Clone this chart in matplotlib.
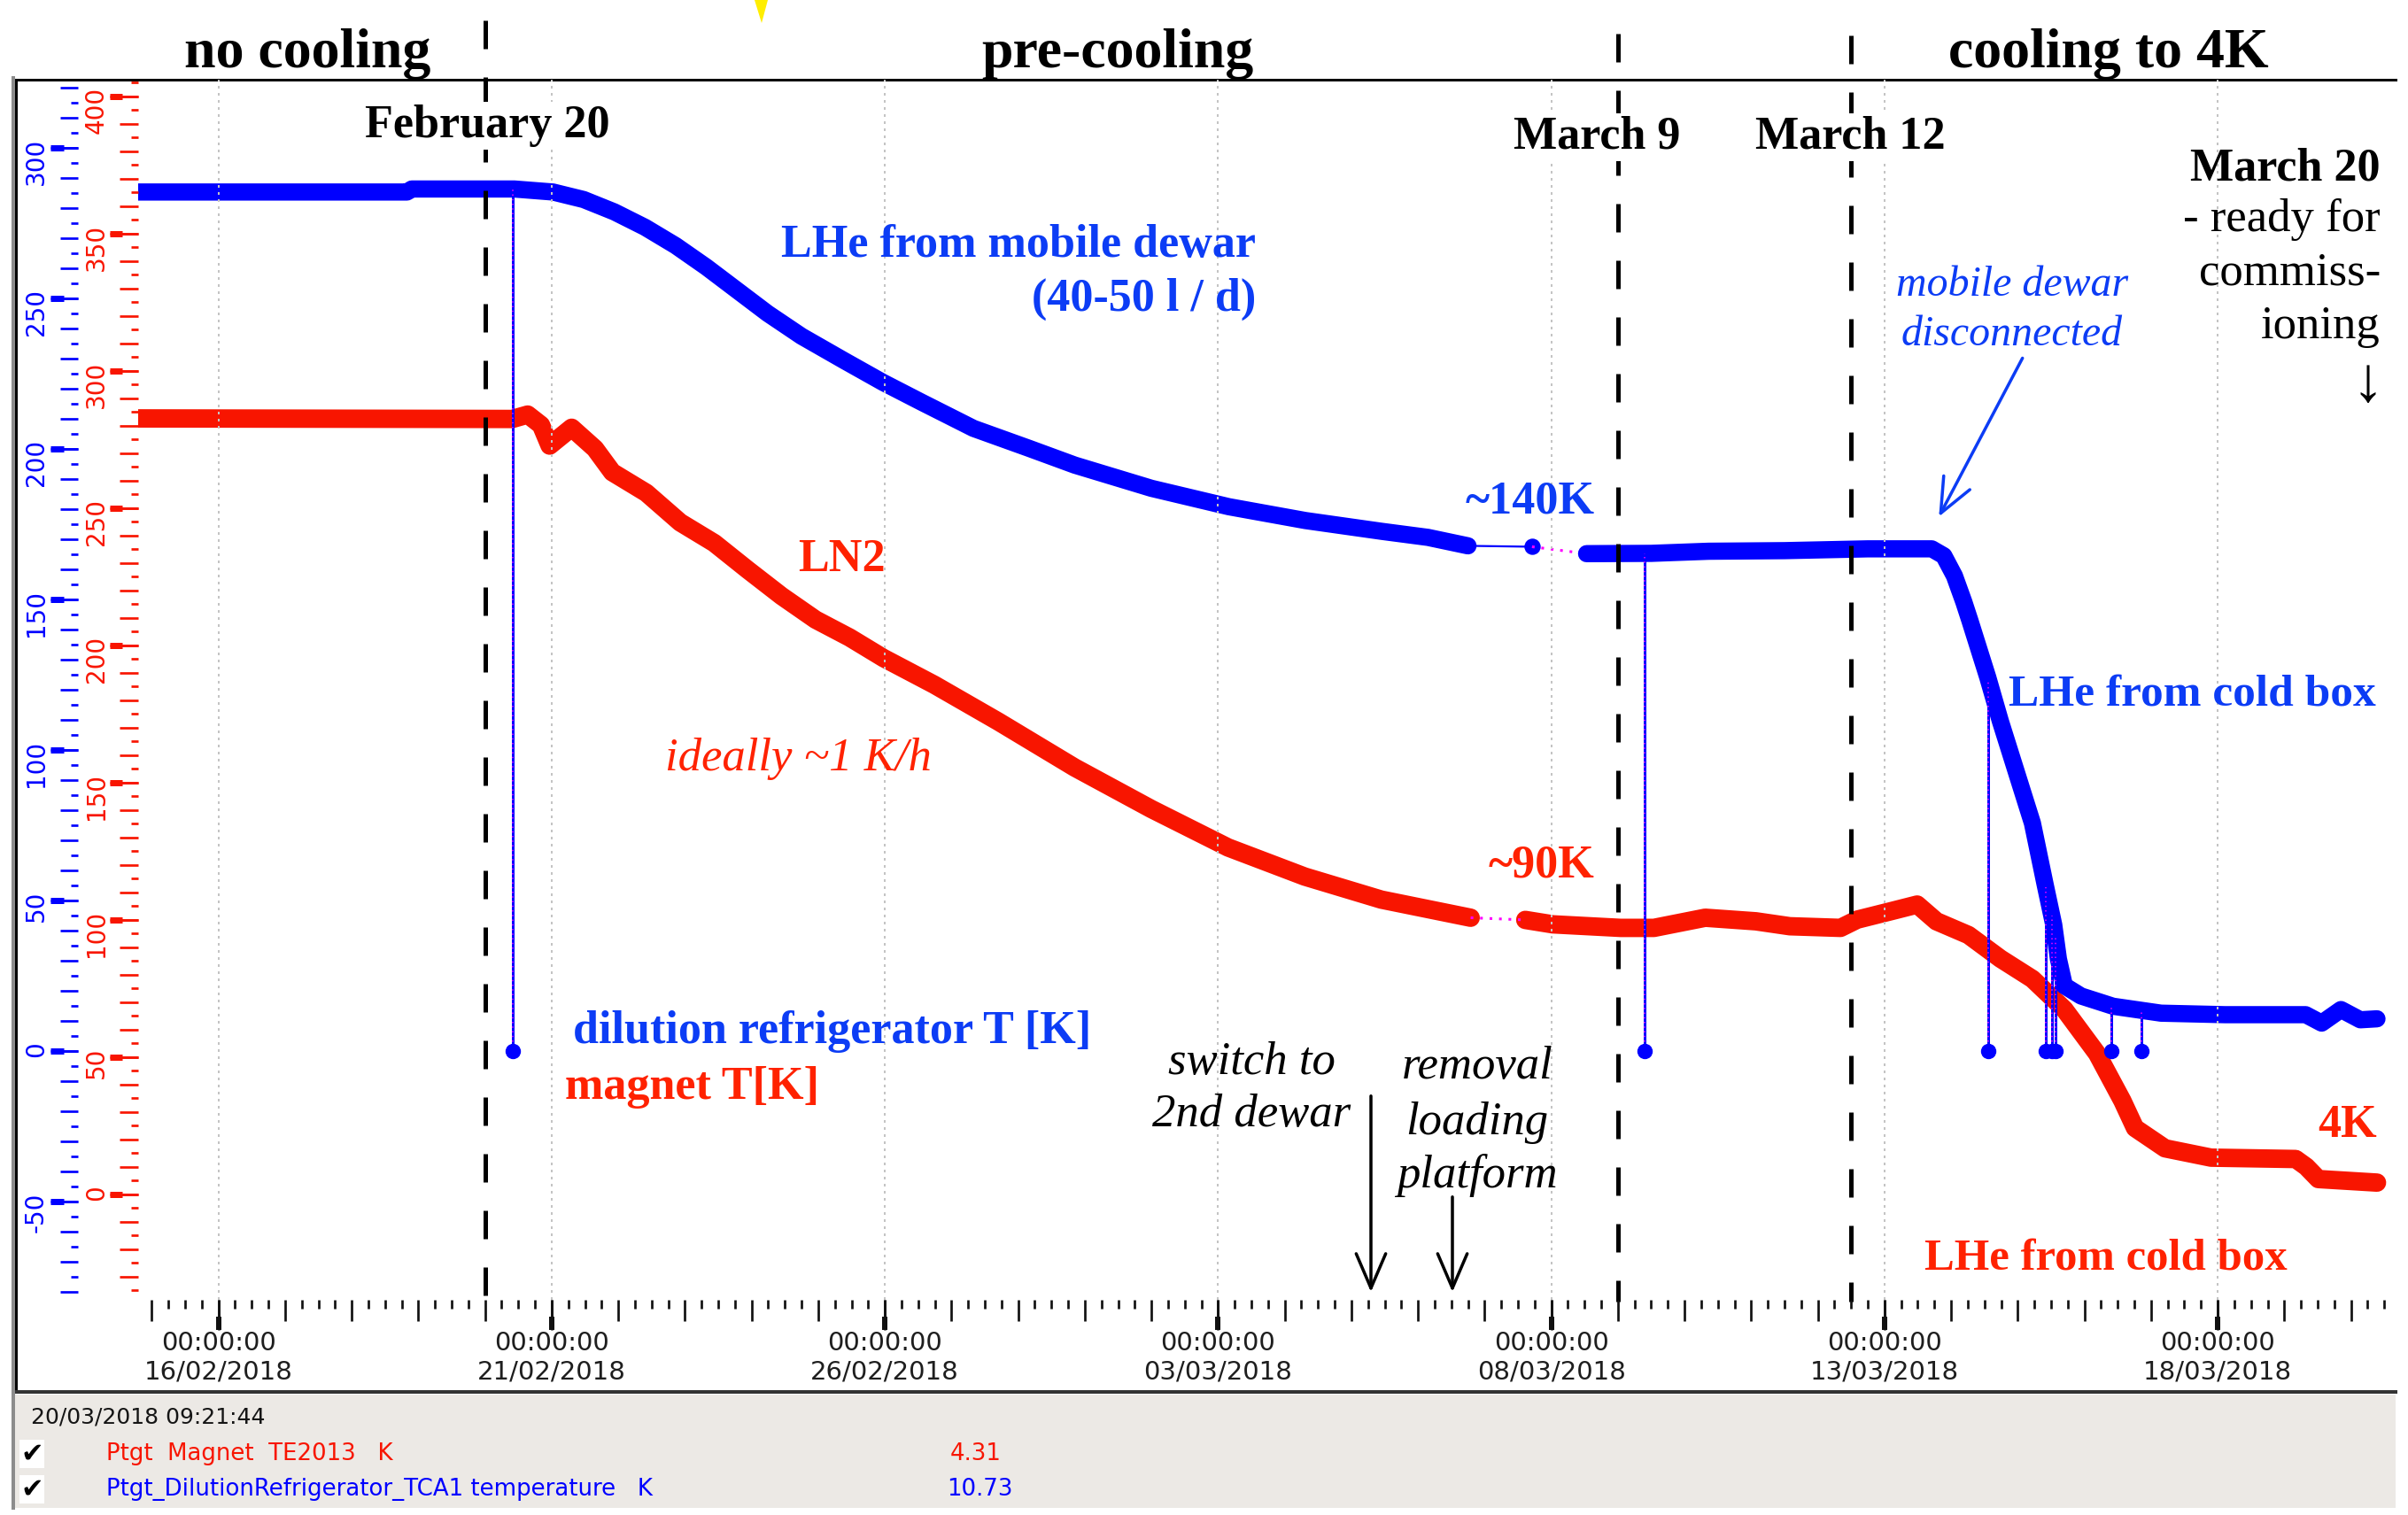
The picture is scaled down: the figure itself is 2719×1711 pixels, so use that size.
import numpy as np
import pandas as pd
import matplotlib
matplotlib.use("Agg")
import matplotlib.pyplot as plt
import matplotlib.ticker as mticker
import matplotlib.transforms as mtransforms
from matplotlib.lines import Line2D
from matplotlib.patches import Polygon, FancyArrowPatch

# ---------------------------------------------------------------- data
base = pd.Timestamp("2018-02-16 00:00")          # time axis: days after this
view = ("2018-02-14 19:05", "2018-03-20 15:07")

# magnet temperature TE2013 [K]
t_mag_1 = [-1.21, 4.41, 4.64, 4.84, 4.97, 5.30, 5.65, 5.91, 6.42, 6.93, 7.44, 7.94,
           8.45, 8.96, 9.47, 9.98, 10.74, 11.70, 12.85, 14.00, 15.15, 16.30, 17.45, 18.79]
T_mag_1 = [282.7, 282.5, 284.1, 280.3, 272.8, 279.3, 271.7, 263.1, 255.6, 244.8, 237.3, 227.6,
           218.0, 209.4, 202.9, 195.4, 185.7, 172.3, 155.5, 140.4, 126.4, 115.8, 107.4, 100.8]
t_mag_2 = [19.61, 20.02, 21.04, 21.54, 22.31, 23.07, 23.58, 24.34, 24.59, 25.10, 25.49, 25.78,
           26.26, 26.74, 27.22, 27.70, 28.19, 28.57, 28.76, 29.21, 29.90, 31.17, 31.33, 31.51, 32.39]
T_mag_2 = [100.0, 98.4, 97.1, 97.1, 100.8, 99.5, 97.7, 97.1, 100.1, 103.2, 105.6, 99.5,
           94.5, 85.9, 78.5, 67.4, 51.3, 34.1, 24.2, 16.8, 13.4, 12.9, 10.1, 5.6, 4.31]

# dilution refrigerator TCA1 temperature [K]
t_dr_1 = [-1.21, 2.83, 2.90, 4.44, 5.02, 5.48, 5.94, 6.40, 6.86, 7.32, 7.78, 8.24, 8.75,
          9.39, 9.97, 10.55, 11.33, 12.16, 12.85, 14.00, 15.16, 16.31, 17.46, 18.15, 18.75]
T_dr_1 = [285.3, 285.3, 286.3, 286.3, 285.3, 282.8, 278.7, 273.6, 267.5, 260.4, 252.7, 245.0, 237.4,
          229.3, 222.1, 215.5, 206.8, 200.2, 194.6, 186.9, 180.8, 176.2, 172.6, 170.6, 167.8]
t_dr_lone = [19.71]
T_dr_lone = [167.5]
t_dr_2 = [20.53, 21.50, 22.36, 23.50, 24.75, 25.71, 25.89, 26.05, 26.19, 26.28, 26.55, 26.74,
          26.98, 27.22, 27.41, 27.54, 27.61, 27.70, 27.95, 28.43, 29.15, 30.11, 31.32, 31.56,
          31.85, 32.14, 32.39]
T_dr_2 = [165.2, 165.3, 166.0, 166.2, 166.8, 166.8, 164.5, 157.8, 149.2, 143.1, 124.1, 109.5,
          92.6, 75.7, 55.4, 41.9, 30.6, 21.7, 18.3, 14.9, 12.6, 12.1, 12.1, 9.3,
          13.8, 10.4, 10.73]
# readout dropouts of the DR sensor
t_dr_drop = [4.42, 21.40, 26.56, 27.42, 27.51, 27.56, 28.40, 28.86]
T_dr_drop = [0.0, 0.0, 0.0, 0.0, 0.0, 0.0, 0.0, 0.0]

events = ["2018-02-20 00:00", "2018-03-09 00:00", "2018-03-12 12:00"]
last_read = "20/03/2018 09:21:44"

BLUE = "#0000ff"
RED = "#f81500"
TBLUE = "#0c3cf5"
TRED = "#ff2200"
MAG = "#ff00ff"
SERIF = ["Liberation Serif", "DejaVu Serif"]

# ---------------------------------------------------------------- layout helpers
W, H = 2719, 1711
PT = 0.72   # points per pixel at dpi 100


def box(x0, y0, x1, y1):
    return [x0 / W, 1 - y1 / H, (x1 - x0) / W, (y1 - y0) / H]


def fxy(x, y):
    return (x / W, 1 - y / H)


def days(ts):
    return (pd.Timestamp(ts) - base) / pd.Timedelta(days=1)


xlim = (days(view[0]), days(view[1]))
ylim_dr = (-82.6, 322.6)
ylim_mag = (-38.4, 406.1)
DATA = box(156, 90, 2702, 1468)

fig = plt.figure(figsize=(W / 100, H / 100), dpi=100)
fig.patch.set_facecolor("white")

# window frame + status panel
frame = fig.add_axes(box(18, 90, 2705, 1572))
frame.set_xticks([])
frame.set_yticks([])
frame.spines["right"].set_visible(False)
frame.spines["top"].set_linewidth(3 * PT)
frame.spines["bottom"].set_linewidth(4 * PT)
frame.spines["bottom"].set_color("#333333")
frame.spines["left"].set_linewidth(3 * PT)

panel = fig.add_axes(box(13, 1575, 2705, 1703))
panel.set_facecolor("#ece9e5")
panel.set_xticks([])
panel.set_yticks([])
for s in panel.spines.values():
    s.set_visible(False)
fig.add_artist(Line2D([14.5 / W, 14.5 / W], [fxy(0, 88)[1], fxy(0, 1703)[1]],
                      color="#8c8c8c", lw=4 * PT))


def bare(a, ylim):
    a.set_xlim(xlim)
    a.set_ylim(ylim)
    a.patch.set_visible(False)
    for s in a.spines.values():
        s.set_visible(False)
    a.tick_params(which="both", left=False, bottom=False, labelleft=False, labelbottom=False)
    return a


rax = bare(fig.add_axes(DATA), ylim_mag)
ax = bare(fig.add_axes(DATA), ylim_dr)

# dotted grid on top of the traces
ax.xaxis.set_major_locator(mticker.MultipleLocator(5))
ax.grid(axis="x", color="#c4c4c4", lw=2 * PT, linestyle=(0, (1.5, 2.5)))
ax.set_axisbelow(False)

# magnet trace
kw = dict(solid_capstyle="round", solid_joinstyle="round")
rax.plot(t_mag_1, T_mag_1, color=RED, lw=15, **kw)
rax.plot(t_mag_2, T_mag_2, color=RED, lw=15, **kw)
rax.plot([t_mag_1[-1], t_mag_2[0]], [T_mag_1[-1], T_mag_2[0]], color=MAG, lw=2.2, dashes=(1, 2.5))

# dilution refrigerator trace
ax.plot(t_dr_1, T_dr_1, color=BLUE, lw=14, **kw)
ax.plot([t_dr_1[-1], t_dr_lone[0]], [T_dr_1[-1], T_dr_lone[0]], color=BLUE, lw=1.6)
ax.plot(t_dr_lone, T_dr_lone, "o", color=BLUE, ms=17 * PT)
ax.plot([t_dr_lone[0], t_dr_2[0]], [T_dr_lone[0], T_dr_2[0]], color=MAG, lw=2.2, dashes=(1, 2.5))
ax.plot(t_dr_2, T_dr_2, color=BLUE, lw=14, **kw)

t_all = np.concatenate([t_dr_1, t_dr_lone, t_dr_2])
T_all = np.concatenate([T_dr_1, T_dr_lone, T_dr_2])
drop_top = np.interp(t_dr_drop, t_all, T_all)
ax.vlines(t_dr_drop, T_dr_drop, drop_top, color=BLUE, lw=3 * PT)
ax.vlines(t_dr_drop, T_dr_drop, drop_top, color=MAG, lw=1.5 * PT, linestyles=(0, (1, 2.5)))
ax.plot(t_dr_drop, T_dr_drop, "o", color=BLUE, ms=16 * PT)

# phase boundaries
trans = mtransforms.blended_transform_factory(ax.transData, ax.transAxes)
for ev, ytop in zip(events, [23, 38, 40]):
    d = days(ev)
    ax.plot([d, d], [(1468 - ytop) / 1378, (1468 - 1470) / 1378], transform=trans,
            clip_on=False, color="k", lw=5 * PT, dashes=(6.4, 6.4), zorder=5)


# ---------------------------------------------------------------- scales
def layer(ylim, axis, major, minor=None, length=(0, 0), width=2.7, offset=0, color="k"):
    a = bare(fig.add_axes(DATA), ylim)
    side = "left" if axis == "y" else "bottom"
    axo = a.yaxis if axis == "y" else a.xaxis
    a.spines[side].set_position(("outward", offset * PT))
    axo.set_major_locator(major)
    a.tick_params(axis=axis, which="major", direction="out", length=length[0] * PT,
                  width=width * PT, color=color, **{side: True})
    if minor is not None:
        axo.set_minor_locator(minor)
        a.tick_params(axis=axis, which="minor", direction="out", length=length[1] * PT,
                      width=width * PT, color=color, **{side: True})
    else:
        axo.set_minor_locator(mticker.NullLocator())
    return a


fix = mticker.FixedLocator
int_fmt = mticker.FuncFormatter(lambda v, p: f"{v:.0f}")

# blue scale (dilution refrigerator)
layer(ylim_dr, "y", fix(np.arange(-80, 321, 10)), fix(np.arange(-75, 321, 10)),
      length=(20, 8), offset=68, color=BLUE)
b2 = layer(ylim_dr, "y", fix(np.arange(-50, 301, 50)), length=(31, 0), offset=68, color=BLUE)
b2.yaxis.set_major_formatter(int_fmt)
b2.tick_params(axis="y", labelleft=True, labelsize=20, labelcolor=BLUE, labelrotation=90, pad=1.4)
layer(ylim_dr, "y", fix(np.arange(-50, 301, 50)), length=(15, 0), width=7, offset=84, color=BLUE)

# red scale (magnet)
layer(ylim_mag, "y", fix(np.arange(-30, 406, 10)), fix(np.arange(-35, 406, 10)),
      length=(21, 8), offset=0, color=RED)
r2 = layer(ylim_mag, "y", fix(np.arange(0, 401, 50)), length=(32, 0), offset=0, color=RED)
r2.yaxis.set_major_formatter(int_fmt)
r2.tick_params(axis="y", labelleft=True, labelsize=20, labelcolor=RED, labelrotation=90, pad=0.8)
layer(ylim_mag, "y", fix(np.arange(0, 401, 50)), length=(14, 0), width=7, offset=18, color=RED)

# time axis
layer(ylim_dr, "x", mticker.MultipleLocator(1), mticker.MultipleLocator(0.25),
      length=(24, 10), color="#111111")
x2 = layer(ylim_dr, "x", mticker.MultipleLocator(5), length=(34, 0), color="#111111")
x2.xaxis.set_major_formatter(mticker.FuncFormatter(
    lambda d, p: (base + pd.Timedelta(days=d)).strftime("%H:%M:%S\n%d/%m/%Y")))
x2.tick_params(axis="x", labelbottom=True, labelsize=21, labelcolor="#1e1e1e", pad=1)
layer(ylim_dr, "x", mticker.MultipleLocator(5), length=(15, 0), width=6, offset=19, color="#111111")


# ---------------------------------------------------------------- annotations
def note(x, y, s, color="k", size=37.5, weight="bold", style="normal", ha="center", va="center", **kw):
    fig.text(x / W, 1 - y / H, s, color=color, fontsize=size, fontweight=weight,
             fontstyle=style, ha=ha, va=va, family=SERIF, **kw)


white = dict(facecolor="white", edgecolor="none", pad=2)

note(347, 76, "no cooling", size=46, va="baseline")
note(1262, 76, "pre-cooling", size=46, va="baseline")
note(2381, 76, "cooling to 4K", size=46, va="baseline")
note(550, 155, "February 20", va="baseline", bbox=white)
note(1803, 168, "March 9", va="baseline", bbox=white)
note(2089, 168, "March 12", va="baseline", bbox=white)
note(2688, 203, "March 20", ha="right", va="baseline")
note(2688, 248, "- ready for", weight="normal", size=38, ha="right")
note(2688, 309, "commiss-", weight="normal", size=38, ha="right")
note(2688, 369, "ioning", weight="normal", size=38, ha="right")
note(2674, 436, "\u2193", weight="normal", size=52)

note(1418, 277, "LHe from mobile dewar", color=TBLUE, ha="right")
note(1418, 338, "(40-50 l / d)", color=TBLUE, ha="right")
note(2272, 322, "mobile dewar", color=TBLUE, weight="normal", style="italic", size=34.5)
note(2272, 378, "disconnected", color=TBLUE, weight="normal", style="italic", size=34.5)
note(1728, 566, "~140K", color=TBLUE)
note(950, 632, "LN2", color=TRED)
note(2268, 784, "LHe from cold box", color=TBLUE, size=37, ha="left")
note(901, 857, "ideally ~1 K/h", color=TRED, weight="normal", style="italic", size=38)
note(1740, 978, "~90K", color=TRED)
note(647, 1165, "dilution refrigerator T [K]", color=TBLUE, ha="left")
note(638, 1228, "magnet T[K]", color=TRED, ha="left")
note(1413, 1200, "switch to", weight="normal", style="italic", size=38)
note(1413, 1259, "2nd dewar", weight="normal", style="italic", size=38)
note(1668, 1205, "removal", weight="normal", style="italic", size=38)
note(1668, 1268, "loading", weight="normal", style="italic", size=38)
note(1668, 1328, "platform", weight="normal", style="italic", size=38)
note(2684, 1271, "4K", color=TRED, ha="right")
note(2378, 1422, "LHe from cold box", color=TRED, size=36.5)

arrows = [((2285, 402), (2188, 586), TBLUE),
          ((1548, 1235), (1548, 1462), "k"),
          ((1640, 1349), (1640, 1462), "k")]
for a0, a1, c in arrows:
    fig.add_artist(FancyArrowPatch(fxy(*a0), fxy(*a1), transform=fig.transFigure,
                                   arrowstyle="->,head_length=0.7,head_width=0.3",
                                   mutation_scale=40, lw=3.5 * PT, color=c))

fig.add_artist(Polygon([fxy(852, 0), fxy(867, 0), fxy(860, 26)], closed=True,
                       transform=fig.transFigure, facecolor="#ffee00", edgecolor="none"))

# status panel readout
fig.text(35 / W, 1 - 1600 / H, last_read, fontsize=18, color="#151515", va="center")
for yy, name, val, c in [(1642, "Ptgt  Magnet  TE2013   K", T_mag_2[-1], RED),
                         (1682, "Ptgt_DilutionRefrigerator_TCA1 temperature   K", T_dr_2[-1], BLUE)]:
    fig.text(36 / W, 1 - yy / H, "\u2714", fontsize=22, color="k", ha="center", va="center",
             bbox=dict(facecolor="white", edgecolor="none", pad=1))
    fig.text(120 / W, 1 - yy / H, name, fontsize=18.7, color=c, va="center")
    fig.text((1131 if c == RED else 1144) / W, 1 - yy / H, f"{val:.2f}", fontsize=18.7,
             color=c, va="center", ha="right")

fig.savefig("out.png", dpi=100)
